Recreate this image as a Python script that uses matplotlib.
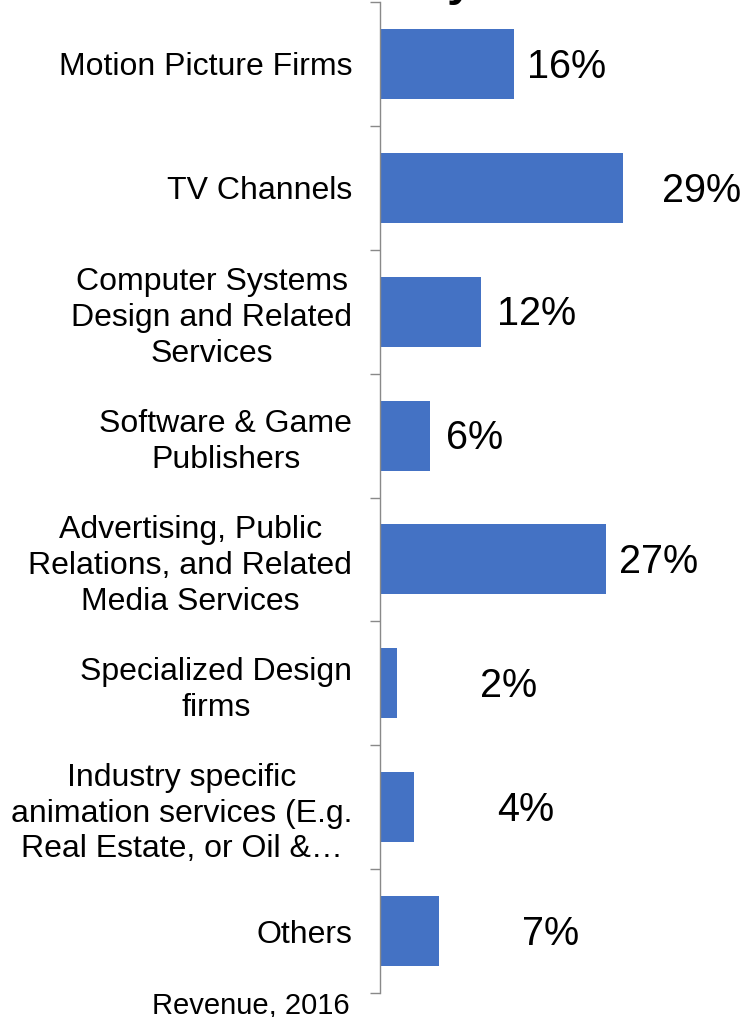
import numpy as np
import matplotlib.pyplot as plt

plt.rcParams['font.family'] = ['Liberation Sans', 'DejaVu Sans']

categories = ['Motion Picture Firms',
              'TV Channels',
              'Computer Systems\nDesign and Related\nServices',
              'Software & Game\nPublishers',
              'Advertising, Public\nRelations, and Related\nMedia Services',
              'Specialized Design\nfirms',
              'Industry specific\nanimation services (E.g.\nReal Estate, or Oil &\u2026',
              'Others']
share = [16, 29, 12, 6, 27, 2, 4, 7]
# where each value label sits past the end of its bar (points)
label_gap = [9, 28, 12, 11, 9, 60, 60, 60]

fig = plt.figure(figsize=(7.4, 10.17), dpi=100)
ax = fig.add_axes([380 / 740, 24 / 1017, 360 / 740, 991 / 1017])

y_pos = np.arange(len(categories))
ax.barh(y_pos, share, height=0.565, color='#4472C4')
ax.set_ylim(len(categories) - 0.5, -0.5)
ax.set_xlim(0, 360 / 8.38)

for y, v, g in zip(y_pos, share, label_gap):
    ax.annotate('%d%%' % v, xy=(v, y), xytext=(g, -2), textcoords='offset points',
                ha='left', va='center', fontsize=28.5, color='black',
                annotation_clip=False)

ax.set_yticks(y_pos)
ax.set_yticklabels(categories, fontsize=23, multialignment='center',
                   linespacing=1.25)
ax.set_yticks(np.arange(len(categories) + 1) - 0.5, minor=True)
ax.tick_params(axis='y', which='major', length=0, pad=20)
ax.tick_params(axis='y', which='minor', length=7.5, width=1, color='#898989')
ax.set_xticks([])

for side in ['top', 'right', 'bottom']:
    ax.spines[side].set_visible(False)
ax.spines['left'].set_color('#898989')
ax.spines['left'].set_linewidth(1)

fig.text(350 / 740, 3 / 1017, 'Revenue, 2016', ha='right', va='baseline',
         fontsize=21)
# tail of the chart title running off the top
fig.text(460 / 740, 1.005, 'y', ha='center', va='baseline', fontsize=34,
         fontweight='bold')

fig.savefig('out.png', dpi=100)
